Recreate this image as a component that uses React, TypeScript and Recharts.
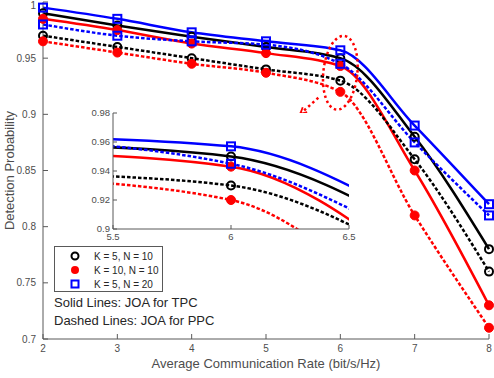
import React from 'react';
import {
  LineChart,
  Line,
  XAxis,
  YAxis,
  CartesianGrid,
  ReferenceDot,
  Label,
} from 'recharts';

// data
const rates = [2, 3, 4, 5, 6, 7, 8];
const tpcK5N10 = [0.99, 0.979, 0.969, 0.96, 0.95, 0.88, 0.78];
const tpcK10N10 = [0.985, 0.975, 0.963, 0.9545, 0.943, 0.85, 0.73];
const tpcK5N20 = [0.995, 0.985, 0.973, 0.965, 0.957, 0.89, 0.82];
const ppcK5N10 = [0.97, 0.96, 0.95, 0.94, 0.93, 0.86, 0.76];
const ppcK10N10 = [0.965, 0.955, 0.945, 0.937, 0.92, 0.81, 0.71];
const ppcK5N20 = [0.98, 0.97, 0.965, 0.962, 0.945, 0.875, 0.81];

const xTicks = [2, 3, 4, 5, 6, 7, 8];
const yTicks = [0.7, 0.75, 0.8, 0.85, 0.9, 0.95, 1];
const insetXTicks = [5.5, 6, 6.5];
const insetYTicks = [0.9, 0.92, 0.94, 0.96, 0.98];

const legendLabels = ['K = 5, N = 10', 'K = 10, N = 10', 'K = 5, N = 20'];
const noteLines = ['Solid Lines: JOA for TPC', 'Dashed Lines: JOA for PPC'];

const data = rates.map((x, i) => ({
  x,
  tpcK5N10: tpcK5N10[i],
  tpcK10N10: tpcK10N10[i],
  tpcK5N20: tpcK5N20[i],
  ppcK5N10: ppcK5N10[i],
  ppcK10N10: ppcK10N10[i],
  ppcK5N20: ppcK5N20[i],
}));

const BLACK = '#000000';
const RED = '#ff0000';
const BLUE = '#0000ff';
const AXIS = '#595959';
const TEXT = '#4d4d4d';
const FONT = '"Liberation Sans", Arial, Helvetica, sans-serif';

const openCircle = (p: any) => (
  <circle key={`c${p.index}`} cx={p.cx} cy={p.cy} r={4} fill="none" stroke={BLACK} strokeWidth={2} />
);
const redDot = (p: any) => (
  <circle key={`r${p.index}`} cx={p.cx} cy={p.cy} r={4.5} fill={RED} stroke={RED} strokeWidth={1} />
);
const blueSquare = (p: any) => (
  <rect key={`s${p.index}`} x={p.cx - 4} y={p.cy - 4} width={8} height={8} fill="none" stroke={BLUE} strokeWidth={2} />
);

const series = [
  { key: 'tpcK5N10', color: BLACK, dash: undefined, dot: openCircle },
  { key: 'tpcK10N10', color: RED, dash: undefined, dot: redDot },
  { key: 'tpcK5N20', color: BLUE, dash: undefined, dot: blueSquare },
  { key: 'ppcK5N10', color: BLACK, dash: '3.5 2', dot: openCircle },
  { key: 'ppcK10N10', color: RED, dash: '3.5 2', dot: redDot },
  { key: 'ppcK5N20', color: BLUE, dash: '3.5 2', dot: blueSquare },
];

const renderLines = () =>
  series.map((s) => (
    <Line
      key={s.key}
      type="monotone"
      dataKey={s.key}
      stroke={s.color}
      strokeWidth={2.5}
      strokeDasharray={s.dash}
      dot={s.dot}
      activeDot={false}
      isAnimationActive={false}
    />
  ));

// dotted ellipse around x = 6 with an arrow pointing to the zoomed inset
const Highlight = (p: any) => {
  const { cx, cy } = p;
  const sx = cx - 22;
  const sy = cy + 25;
  const tx = cx - 40;
  const ty = cy + 41;
  const ang = Math.atan2(ty - sy, tx - sx);
  const len = 7;
  const a1 = ang + Math.PI - 0.5;
  const a2 = ang + Math.PI + 0.5;
  return (
    <g>
      <ellipse
        cx={cx}
        cy={cy}
        rx={17}
        ry={37}
        transform={`rotate(6 ${cx} ${cy})`}
        fill="none"
        stroke={RED}
        strokeWidth={2.5}
        strokeDasharray="2.5 3"
      />
      <line x1={sx} y1={sy} x2={tx} y2={ty} stroke={RED} strokeWidth={2.5} strokeDasharray="2.5 3" />
      <polyline
        points={`${tx + len * Math.cos(a1)},${ty + len * Math.sin(a1)} ${tx},${ty} ${tx + len * Math.cos(a2)},${ty + len * Math.sin(a2)}`}
        fill="none"
        stroke={RED}
        strokeWidth={1.8}
      />
    </g>
  );
};

const yTitle = (p: any) => {
  const vb = p.viewBox;
  const x = 13.5;
  const y = vb.y + vb.height / 2;
  return (
    <text x={x} y={y} transform={`rotate(-90 ${x} ${y})`} textAnchor="middle" fontSize={13} fill={TEXT}>
      Detection Probability
    </text>
  );
};

const xTitle = (p: any) => {
  const vb = p.viewBox;
  return (
    <text x={vb.x + vb.width / 2} y={367.5} textAnchor="middle" fontSize={13} fill={TEXT}>
      Average Communication Rate (bit/s/Hz)
    </text>
  );
};

const legendMarkers = [
  <circle cx={6} cy={6} r={3.5} fill="none" stroke={BLACK} strokeWidth={2} />,
  <circle cx={6} cy={6} r={4} fill={RED} />,
  <rect x={2.5} y={2.5} width={7} height={7} fill="none" stroke={BLUE} strokeWidth={2} />,
];

export default function App() {
  return (
    <div
      style={{
        position: 'absolute',
        left: 0,
        top: 0,
        width: 494,
        height: 378,
        background: '#fff',
        fontFamily: FONT,
      }}
    >
      <LineChart width={494} height={378} data={data} margin={{ top: 2, right: 5, bottom: 0, left: 0 }}>
        <XAxis
          dataKey="x"
          type="number"
          domain={[2, 8]}
          ticks={xTicks}
          height={39}
          stroke={AXIS}
          tickSize={-5}
          tickMargin={11}
          tick={{ fontSize: 10, fill: TEXT }}
        >
          <Label content={xTitle} />
        </XAxis>
        <XAxis
          xAxisId="top"
          orientation="top"
          dataKey="x"
          type="number"
          domain={[2, 8]}
          ticks={xTicks}
          height={0}
          stroke={AXIS}
          tickSize={-5}
          tick={false}
        />
        <YAxis
          type="number"
          domain={[0.7, 1]}
          ticks={yTicks}
          width={43}
          stroke={AXIS}
          tickSize={-5}
          tickMargin={12}
          tick={{ fontSize: 10, fill: TEXT }}
        >
          <Label content={yTitle} />
        </YAxis>
        <YAxis
          yAxisId="right"
          orientation="right"
          type="number"
          domain={[0.7, 1]}
          ticks={yTicks}
          width={0}
          stroke={AXIS}
          tickSize={-5}
          tick={false}
        />
        {renderLines()}
        <ReferenceDot x={6} y={0.937} shape={Highlight} />
      </LineChart>

      {/* zoomed inset */}
      <div style={{ position: 'absolute', left: 60, top: 100, width: 300, height: 150 }}>
        <LineChart width={300} height={150} data={data} margin={{ top: 13, right: 11, bottom: 0, left: 0 }}>
          <CartesianGrid fill="#fff" horizontal={false} vertical={false} />
          <XAxis
            dataKey="x"
            type="number"
            domain={[5.5, 6.5]}
            ticks={insetXTicks}
            allowDataOverflow
            height={21}
            stroke={AXIS}
            tickSize={-4}
            tickMargin={8}
            tick={{ fontSize: 9.5, fill: TEXT }}
          />
          <XAxis
            xAxisId="top"
            orientation="top"
            dataKey="x"
            type="number"
            domain={[5.5, 6.5]}
            ticks={insetXTicks}
            allowDataOverflow
            height={0}
            stroke={AXIS}
            tickSize={-4}
            tick={false}
          />
          <YAxis
            type="number"
            domain={[0.9, 0.98]}
            ticks={insetYTicks}
            allowDataOverflow
            width={53}
            stroke={AXIS}
            tickSize={-4}
            tickMargin={7}
            tick={{ fontSize: 9.5, fill: TEXT }}
          />
          <YAxis
            yAxisId="right"
            orientation="right"
            type="number"
            domain={[0.9, 0.98]}
            ticks={insetYTicks}
            allowDataOverflow
            width={0}
            stroke={AXIS}
            tickSize={-4}
            tick={false}
          />
          {renderLines()}
        </LineChart>
      </div>

      {/* legend */}
      <div
        style={{
          position: 'absolute',
          left: 54,
          top: 246,
          width: 107,
          height: 44,
          border: `1px solid ${AXIS}`,
          background: '#fff',
          fontSize: 10,
          color: '#262626',
        }}
      >
        {legendLabels.map((t, i) => (
          <div key={t} style={{ position: 'absolute', left: 0, top: 2 + i * 14, height: 14, display: 'flex', alignItems: 'center' }}>
            <svg width={12} height={12} style={{ marginLeft: 14 }}>
              {legendMarkers[i]}
            </svg>
            <span style={{ marginLeft: 13, whiteSpace: 'nowrap' }}>{t}</span>
          </div>
        ))}
      </div>

      {noteLines.map((t, i) => (
        <div
          key={t}
          style={{
            position: 'absolute',
            left: 54,
            top: 295 + i * 18,
            fontSize: 13,
            color: '#262626',
            whiteSpace: 'nowrap',
            lineHeight: '16px',
          }}
        >
          {t}
        </div>
      ))}
    </div>
  );
}
